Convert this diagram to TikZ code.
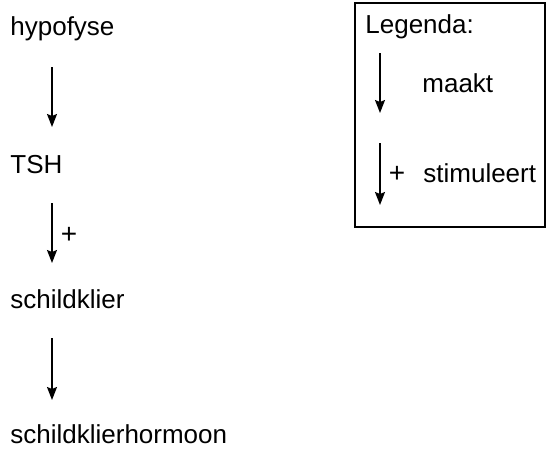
\documentclass[tikz,border=0pt]{standalone}
\usepackage{fontspec}
\setmainfont{Liberation Sans}
\usetikzlibrary{arrows.meta}

\begin{document}
\begin{tikzpicture}[x=0.5pt, y=-0.5pt,
	tekst/.style={anchor=base west, inner sep=0pt, font=\fontsize{13}{15}\selectfont},
	plus/.style={anchor=base, inner sep=0pt, font=\fontsize{14}{15}\selectfont},
	pijl/.style={-{Stealth[length=6.5pt, width=5pt, inset=1pt]}, line width=0.8pt}]
	\useasboundingbox (0,0) rectangle (547,450);
	% schema
	\node[tekst] (hypofyse) at (10,35) {hypofyse};
	\node[tekst] (tsh) at (10,173) {TSH};
	\node[tekst] (klier) at (10,308) {schildklier};
	\node[tekst] (hormoon) at (10,443) {schildklierhormoon};
	\foreach \i/\ya/\yb in {1/67/127, 2/203/263, 3/338/400}
	  {\coordinate (van\i) at (52,\ya);
	   \coordinate (naar\i) at (52,\yb);
	   \draw[pijl] (van\i) -- (naar\i);
	  }
	\node[plus] (plus1) at (69,243) {+};
	% legenda
	\coordinate (lb) at (355,3);
	\coordinate (ro) at (545,227);
	\draw[line width=0.75pt] (lb) rectangle (ro);
	\node[tekst] (titel) at (365,33) {Legenda:};
	\coordinate (lvan1) at (380,53);
	\coordinate (lnaar1) at (380,113);
	\coordinate (lvan2) at (380,143);
	\coordinate (lnaar2) at (380,205);
	\draw[pijl] (lvan1) -- (lnaar1);
	\draw[pijl] (lvan2) -- (lnaar2);
	\node[tekst] (maakt) at (422,92) {maakt};
	\node[plus] (plus2) at (397,182) {+};
	\node[tekst] (stim) at (423,182) {stimuleert};
\end{tikzpicture}
\end{document}
